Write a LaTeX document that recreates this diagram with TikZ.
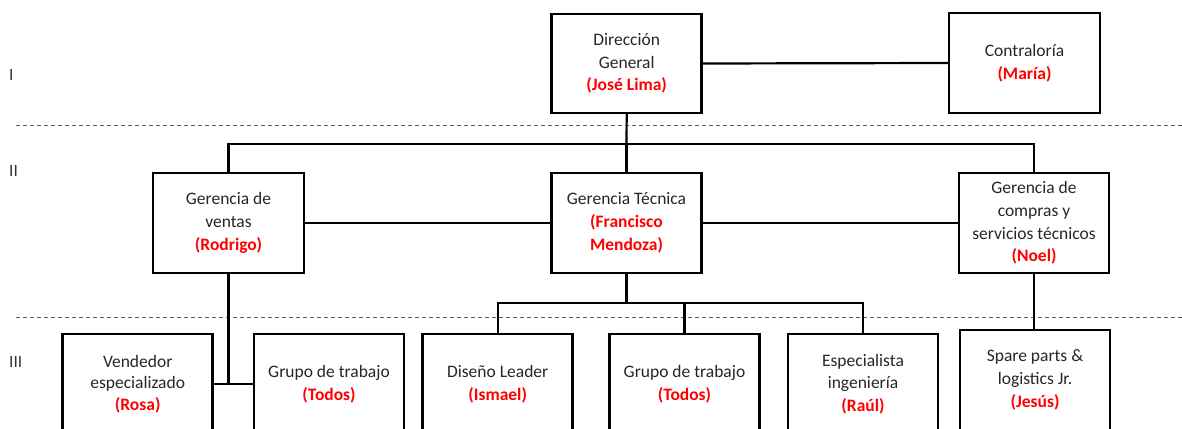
\documentclass[tikz,border=0pt]{standalone}
\usepackage{fontspec}
\setmainfont{Carlito}
\newcommand{\redname}[1]{{\color{red}\bfseries(#1)}}
\newcommand{\redtext}[1]{{\color{red}\bfseries #1}}
\begin{document}
\begin{tikzpicture}[x=1pt,y=-1pt,
  box/.style={draw=black, line width=2.6pt, inner sep=0pt, outer sep=0pt,
    minimum width=150pt, minimum height=100pt, align=center,
    text=black!85, font=\fontsize{17.5}{22.7}\selectfont},
  conn/.style={draw=black, line width=2.2pt},
  sep/.style={draw=black!65, line width=0.9pt, dash pattern=on 4pt off 3pt},
  lvl/.style={anchor=west, inner sep=0pt, text=black!80, font=\fontsize{17.3}{22.7}\selectfont}]
\useasboundingbox (0,0) rectangle (1182,428);
\clip (0,0) rectangle (1182,428);
% level labels
\node[lvl] (l1) at (9,75) {I};
\node[lvl] (l2) at (9,171) {II};
\node[lvl] (l3) at (9,362) {III};
% separators
\coordinate (s1a) at (16,125.7); \coordinate (s1b) at (1182,125.7);
\coordinate (s2a) at (16,317.7); \coordinate (s2b) at (1182,317.7);
\draw[sep] (s1a) -- (s1b);
\draw[sep] (s2a) -- (s2b);
% level I
\node[box, minimum height=99pt] (dir) at (626.7,63.5) {Dirección\\General\\\redname{José Lima}};
\node[box, minimum width=151pt] (con) at (1024.5,63) {Contraloría\\\redname{María}};
% level II
\node[box, minimum width=151pt] (gv) at (228.5,223) {Gerencia de\\ventas\\\redname{Rodrigo}};
\node[box] (gt) at (626.5,223) {Gerencia Técnica\\\redtext{(Francisco}\\\redtext{Mendoza)}};
\node[box] (gc) at (1034,223) {Gerencia de\\compras y\\servicios técnicos\\\redname{Noel}};
% level III
\node[box, font=\fontsize{17.5}{21.5}\selectfont] (ven) at (137.7,384) {Vendedor\\especializado\\\redname{Rosa}};
\node[box] (gr1) at (329,384) {Grupo de trabajo\\\redname{Todos}};
\node[box] (dis) at (497.7,384) {Diseño Leader\\\redname{Ismael}};
\node[box] (gr2) at (684.5,384) {Grupo de trabajo\\\redname{Todos}};
\node[box] (esp) at (863,384) {Especialista\\ingeniería\\\redname{Raúl}};
\node[box] (spa) at (1035,380) {Spare parts \&\\logistics Jr.\\\redname{Jesús}};
% connectors
\coordinate (bus1) at (626.5,144);
\draw[conn] (dir.south) -- (bus1);
\draw[conn] (gv.north) |- (bus1) -| (gc.north);
\draw[conn] (bus1) -- (gt.north);
\draw[conn] (dir.east) -- (con.west);
\draw[conn] (gv.east) -- (gt.west);
\draw[conn] (gt.east) -- (gc.west);
\coordinate (j1) at (gv.south |- ven.east);
\draw[conn] (gv.south) -- (j1);
\draw[conn] (ven.east) -- (gr1.west);
\coordinate (bus2) at (626.5,303.3);
\draw[conn] (gt.south) -- (bus2);
\draw[conn] (dis.north) |- (bus2) -| (esp.north);
\draw[conn] (gr2.north) -- (gr2.north |- bus2);
\draw[conn] (gc.south) -- (gc.south |- spa.north);
\end{tikzpicture}
\end{document}
